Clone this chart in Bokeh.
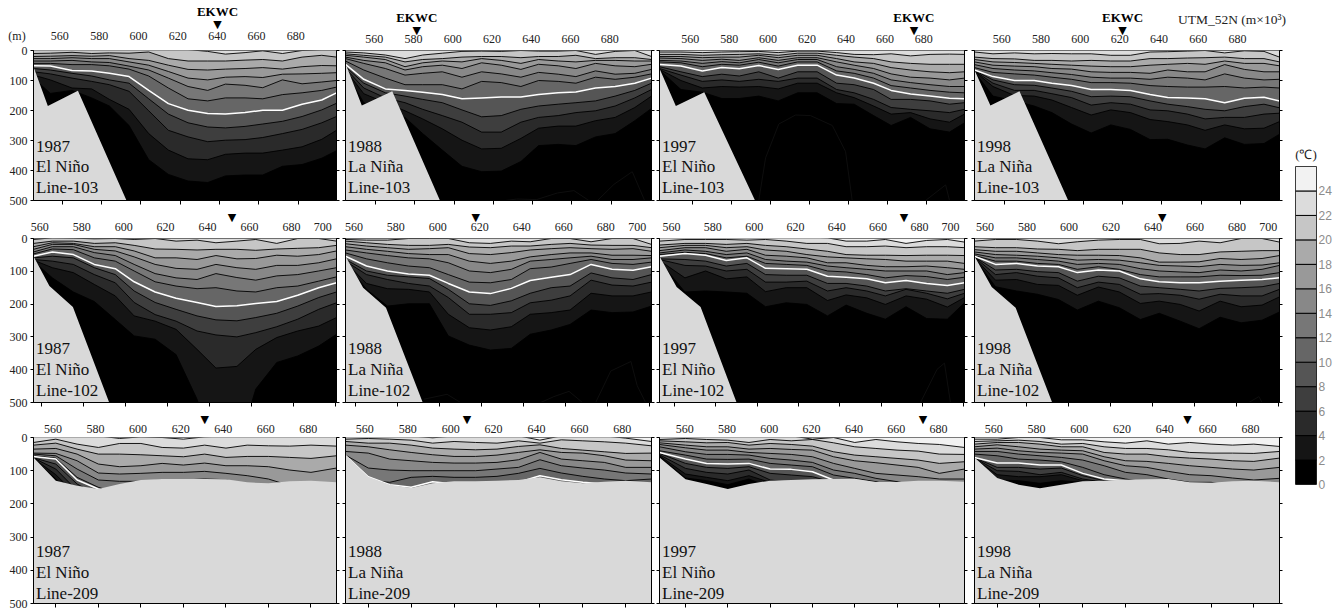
from bokeh.plotting import figure
from bokeh.layouts import row, column
from bokeh.models import Range1d, LinearAxis, FixedTicker, Label
from bokeh.embed import file_html
from bokeh.resources import INLINE

# ---------- stations (UTM km) ----------
ST1 = [545,554,565,575,584,594,604,614,624,634,643,653,662,672,682,692,700]
ST2 = [555.5,565,575,585,595,604,614,624,634,643,653,662,672,682,692,700.5]
ST3 = [549.5,560,570,580,590,600,610,620,630,640,650,660,670,680,691.5]

# ---------- isotherm depths (m), warmest first, 2 C apart ----------
TOP_87_103 = 22
ISO_87_103 = [
 [-3,-3,-3,-3,-3,-3,-3,-3,-3,3,12,7,1,10,0,-2,-2],
 [10,9,6,10,8,9,5,27,35,35,35,32,30,35,22,16,22],
 [20,19,17,19,17,27,33,49,63,65,62,60,57,62,54,50,51],
 [27,27,24,27,27,38,49,70,92,98,89,87,90,79,78,76,74],
 [35,35,33,38,40,52,65,92,120,133,112,116,124,98,111,105,100],
 [43,43,47,47,51,62,85,125,161,168,158,158,161,147,141,133,122],
 [51,52,67,68,76,87,133,177,199,210,212,207,199,199,179,165,141],
 [60,65,76,85,98,109,161,212,241,255,258,253,245,236,220,198,176],
 [71,78,92,103,114,136,201,266,288,304,299,297,290,277,263,241,220],
 [82,98,125,128,163,196,277,332,361,364,346,342,342,332,321,296,266],
 [92,143,133,158,185,250,364,413,435,440,418,415,415,386,380,359,334],
]
TOP_88_103 = 22
ISO_88_103 = [
 [5,8,15,27,15,9,3,2,3,0,2,2,0,13,3,0,20],
 [11,16,22,38,30,27,22,20,20,24,20,20,16,27,24,24,30],
 [16,22,30,54,41,35,38,27,33,43,30,35,38,33,33,35,35],
 [22,33,41,65,54,49,60,41,49,63,46,51,60,43,51,54,46],
 [27,43,60,82,76,71,89,71,78,89,73,79,87,68,79,76,63],
 [35,65,92,114,114,114,128,103,107,120,100,103,109,89,96,89,78],
 [46,96,128,133,139,147,161,158,155,155,147,141,138,125,120,109,92],
 [54,109,141,152,163,174,198,221,217,196,185,179,174,168,152,133,109],
 [60,125,158,174,196,217,239,272,272,239,223,217,207,201,185,158,130],
 [65,144,174,201,228,261,299,328,326,293,259,252,252,234,223,190,152],
 [71,174,207,223,277,332,386,404,402,370,317,313,317,288,277,234,193],
]
TOP_97_103 = 22
ISO_97_103 = [
 [5,5,7,5,4,3,7,2,2,7,13,14,11,18,13,12,13],
 [13,13,16,14,13,11,16,9,9,16,22,27,38,43,46,46,46],
 [20,20,24,22,22,16,24,16,16,27,38,43,57,65,71,74,71],
 [25,27,33,29,33,24,33,24,24,38,49,60,78,89,92,98,92],
 [33,35,43,37,41,30,41,30,30,54,63,76,98,107,114,120,120],
 [38,41,54,46,49,39,52,38,38,68,76,92,117,125,133,139,141],
 [47,52,68,57,61,50,63,49,49,82,92,109,133,145,152,159,161],
 [54,71,87,79,85,71,92,71,71,109,114,130,163,163,168,179,174],
 [60,82,103,98,103,96,103,92,92,130,141,163,190,196,201,207,196],
 [63,100,125,120,122,120,128,109,109,141,157,185,212,207,228,239,212],
 [65,130,139,160,160,152,168,141,141,177,179,217,250,223,261,272,241],
]
TOP_98_103 = 22
ISO_98_103 = [
 [5,11,8,11,10,11,11,16,16,5,4,2,0,8,1,3,22],
 [22,27,28,33,33,35,33,35,35,27,27,25,24,22,27,27,38],
 [30,38,40,43,46,49,52,54,54,49,46,43,46,35,43,43,51],
 [38,49,52,54,60,62,71,73,73,76,65,71,71,47,63,71,71],
 [47,60,65,68,74,80,89,92,92,96,89,92,98,78,92,98,96],
 [57,73,78,82,89,96,107,107,109,117,120,122,122,120,125,122,125],
 [65,87,100,100,109,117,130,130,133,147,157,158,161,174,159,156,168],
 [67,98,114,116,125,136,154,152,154,168,179,187,196,201,187,179,191],
 [68,109,133,133,144,157,182,174,179,198,201,212,228,223,223,212,209],
 [69,120,150,152,165,190,215,198,207,230,237,248,266,248,261,259,237],
 [71,152,168,185,207,245,275,248,263,297,296,315,328,291,313,310,279],
]
TOP_87_102 = 22
ISO_87_102 = [
 [3,-2,-1,1,0,3,0,8,5,13,8,3,15,0,0,8],
 [15,8,8,15,13,21,32,33,35,33,33,36,32,30,28,21],
 [25,13,15,25,25,38,59,59,64,52,62,61,51,54,49,38],
 [33,18,18,33,38,56,79,91,94,79,89,94,82,82,74,62],
 [41,25,25,43,52,79,107,120,125,107,119,127,114,110,99,89],
 [47,32,34,59,69,99,132,145,153,150,160,163,150,145,130,117],
 [54,41,49,79,92,132,163,182,195,207,205,198,192,173,150,135],
 [59,54,59,89,110,160,195,216,236,248,251,241,228,206,180,163],
 [64,69,79,110,135,195,232,252,282,294,300,287,269,246,216,196],
 [66,89,104,140,175,236,252,277,338,395,390,338,302,282,267,241],
 [69,120,163,192,247,297,307,354,490,650,650,459,378,358,328,292],
]
TOP_88_102 = 22
ISO_88_102 = [
 [3,5,5,0,0,0,13,15,8,10,0,0,10,0,0,18],
 [8,13,18,21,21,18,26,28,23,23,18,15,20,21,21,28],
 [16,23,28,33,31,28,46,49,43,35,31,28,31,33,31,39],
 [25,33,39,46,49,49,69,76,69,56,49,44,44,51,51,52],
 [35,44,52,59,62,74,99,104,94,69,64,59,54,64,64,59],
 [44,62,74,84,89,110,133,135,125,92,87,76,64,76,79,72],
 [54,84,99,108,112,137,163,168,152,128,118,110,79,94,97,86],
 [64,99,112,117,122,155,199,204,190,167,150,145,105,120,125,110],
 [69,110,125,137,145,180,231,231,226,196,188,175,127,142,145,133],
 [72,137,153,155,163,231,272,279,269,231,226,218,167,175,175,163],
 [74,155,206,199,199,297,325,340,335,292,279,262,218,226,224,206],
]
TOP_97_102 = 24
ISO_97_102 = [
 [-5,-5,-5,-5,-5,-5,-5,-5,-2,8,8,3,15,6,3,11],
 [8,3,3,3,5,3,8,15,15,25,25,23,28,25,25,28],
 [20,15,15,18,15,21,25,32,39,49,51,51,52,51,51,52],
 [28,21,21,28,25,35,39,49,56,59,62,64,69,69,69,76],
 [37,28,28,39,33,51,54,59,74,74,82,86,86,84,89,94],
 [44,35,39,49,44,64,69,72,84,89,94,99,99,99,110,104],
 [49,42,46,59,54,76,79,82,99,102,110,120,113,116,125,118],
 [54,46,51,67,59,91,92,94,115,118,123,135,128,137,143,135],
 [62,64,69,84,76,110,112,112,137,137,145,160,153,160,167,155],
 [64,82,84,99,94,133,133,130,160,150,160,175,155,167,184,167],
 [67,120,99,123,117,162,150,150,189,172,181,201,175,185,209,180],
 [69,163,160,163,167,208,196,201,236,203,228,246,208,244,246,196],
]
TOP_98_102 = 22
ISO_98_102 = [
 [8,3,3,8,16,10,5,3,3,16,15,8,13,0,0,11],
 [25,28,28,32,33,37,33,33,33,44,49,49,41,39,37,37],
 [34,39,39,44,49,51,51,52,59,72,72,71,61,64,61,52],
 [41,49,51,54,59,66,64,66,74,82,84,86,79,82,81,74],
 [47,59,59,64,69,79,76,79,92,99,102,104,96,99,94,82],
 [52,69,69,76,79,94,86,94,110,117,117,117,112,113,112,104],
 [54,79,76,84,86,104,96,99,123,132,135,135,130,127,125,120],
 [56,96,94,101,104,130,115,120,145,150,155,160,152,150,147,137],
 [57,110,104,115,120,150,133,140,170,168,173,185,170,175,175,155],
 [59,127,125,140,143,173,148,163,198,191,201,221,191,208,203,178],
 [60,147,160,170,186,218,191,211,247,228,252,275,240,257,249,224],
]
TOP_87_209 = 24
ISO_87_209 = [
 [-5,-5,-5,-5,3,-2,0,5,-2,-5,-5,-5,-5,-5,-5],
 [15,5,20,30,18,18,30,32,23,32,23,25,26,23,26],
 [23,17,35,50,50,52,55,58,50,60,57,57,60,63,55],
 [35,33,50,80,88,85,78,83,77,85,85,88,98,105,92],
 [47,48,70,107,110,108,105,105,102,108,115,125,145,160,160],
 [50,55,95,128,132,132,128,128,125,127,145,160,170,170,170],
 [55,62,120,150,170,170,170,170,170,170,170,170,170,170,170],
 [57,65,128,155,175,175,175,175,175,175,175,175,175,175,175],
 [61,80,140,175,180,180,180,180,180,180,180,180,180,180,180],
 [62,95,160,180,185,185,185,185,185,185,185,185,185,185,185],
 [63,112,175,190,190,190,190,190,190,190,190,190,190,190,190],
 [63,125,190,200,200,200,200,200,200,200,200,200,200,200,200],
]
LAND_87_209 = [60,130,145,155,140,128,125,125,125,126,135,138,132,130,135]
TOP_88_209 = 24
ISO_88_209 = [
 [-5,-5,-5,-5,1,-5,-5,-5,-5,8,-5,-5,-5,2,12],
 [5,3,5,8,17,12,15,17,10,17,7,10,13,17,25],
 [12,17,17,23,32,35,37,35,27,22,33,38,43,48,47],
 [23,28,37,45,52,57,57,53,45,37,45,47,55,68,70],
 [42,47,65,70,75,77,77,75,67,45,65,70,75,90,90],
 [53,92,98,100,100,100,100,95,90,67,85,92,98,107,110],
 [54,130,135,120,117,120,120,117,108,93,107,117,125,130,125],
 [54,118,142,150,133,140,140,140,135,115,127,135,140,140,140],
]
LAND_88_209 = [53,118,142,152,138,132,132,130,128,120,132,138,133,130,135]
TOP_97_209 = 24
ISO_97_209 = [
 [-5,-5,-5,-5,-5,-5,-5,5,0,15,6,13,18,21,30],
 [6,3,6,8,15,6,10,6,16,28,33,38,41,50,51],
 [10,13,16,15,23,18,21,26,43,53,58,63,68,78,73],
 [16,23,28,28,35,33,36,38,58,70,76,83,90,108,95],
 [21,31,38,38,45,48,51,58,78,93,108,113,118,125,125],
 [28,43,51,51,53,63,68,75,98,108,123,133,145,150,150],
 [40,53,65,66,65,78,83,88,113,123,133,150,160,170,170],
 [45,65,78,80,78,95,96,103,128,150,160,170,175,180,180],
 [48,78,90,93,88,108,113,118,135,155,165,175,180,185,185],
 [52,93,105,110,98,128,135,135,140,160,170,180,185,190,190],
 [55,110,120,130,115,135,140,140,145,165,175,185,190,195,195],
 [57,122,130,142,125,150,150,150,150,170,180,190,195,200,200],
]
LAND_97_209 = [60,126,140,155,140,130,128,126,125,124,134,134,130,130,133]
TOP_98_209 = 24
ISO_98_209 = [
 [5,5,0,0,7,7,13,17,10,20,15,20,23,20,27],
 [12,10,8,12,20,18,28,33,33,37,45,47,47,48,42],
 [20,15,15,20,28,28,45,50,50,58,62,65,70,72,62],
 [28,22,28,35,38,40,58,70,72,78,85,90,95,98,90],
 [35,32,40,45,47,50,70,85,90,102,112,115,122,128,123],
 [42,42,50,55,60,68,85,105,112,125,135,135,145,150,150],
 [50,55,65,68,73,90,112,125,135,135,150,150,160,160,160],
 [60,77,77,83,83,108,125,130,150,160,170,170,170,170,170],
 [61,90,90,95,92,115,130,140,160,170,175,175,175,175,175],
 [62,100,102,112,105,125,135,145,165,175,180,180,180,180,180],
 [63,112,118,118,112,130,140,150,170,180,185,185,185,185,185],
 [64,128,130,138,130,135,145,155,175,185,190,190,190,190,190],
]
LAND_98_209 = [60,122,142,153,142,132,130,127,126,125,135,136,132,130,135]

# ---------- coast outlines for Lines 103 and 102 ----------
LX_87_103 = [545.4,552.7,568,592.7]; LY_87_103 = [54,185,134,500]
LX_88_103 = [544.7,553,568.5,592.8]; LY_88_103 = [43,183,136,500]
LX_97_103 = [543,551.4,566,592.1];   LY_97_103 = [60,185,139,500]
LX_98_103 = [544.6,552.7,567.5,592.3]; LY_98_103 = [65,183,136,500]
LX_87_102 = [556,563.6,574.8,592.1]; LY_87_102 = [54,145,209,500]
LX_88_102 = [555,563.4,574.3,591.8]; LY_88_102 = [54,150,211,500]
LX_97_102 = [552.7,561,572.6,590];   LY_97_102 = [54,148,209,500]
LX_98_102 = [555,563.2,574.6,592];   LY_98_102 = [54,148,211,500]

# ---------- faint isotherm traces in the coldest water ----------
FAINT_88_103 = [([626,632,642,652.5,661,668.6],[500,495,497,475,467,500]),
                ([673,681.4,690.7,697],[500,446,404,500])]
FAINT_97_103 = [([594,597.5,604.3,612.9,620.6,631.8,638.6,642],[500,358,245,215,217,250,337,500]),
                ([679.7,690,692],[500,448,500])]
FAINT_88_102 = [([592.3,603.4,609.8],[490,475,500]),
                ([648,654.3,661.5,667.9],[500,482,466,500]),
                ([674.2,681.4,691,694,698],[500,404,375,449,500])]
FAINT_97_102 = [([679,687,690.6,693.5],[500,399,380,500])]
FAINT_98_102 = [([685.7,690.5,692],[500,482,500])]

# ---------- labels ----------
YEARS = ["1987", "1988", "1997", "1998"]
PHASES = ["El Niño", "La Niña", "El Niño", "La Niña"]
LINES = ["Line-103", "Line-102", "Line-209"]
DEPTH_TICKS = [0, 100, 200, 300, 400, 500]
X_TICKS_A = [560, 580, 600, 620, 640, 660, 680]
X_TICKS_B = [560, 580, 600, 620, 640, 660, 680, 700]
CBAR_TEMPS = [0, 2, 4, 6, 8, 10, 12, 14, 16, 18, 20, 22, 24]
CBAR_GRAYS = ["#000000","#151515","#2a2a2a","#3e3e3e","#555555","#666666","#777777",
              "#888888","#999999","#aaaaaa","#c6c6c6","#dcdcdc","#f2f2f2"]
EKWC_X = [[639, 581, 673.7, 620], [650.7, 617, 671, 644.4], [630, 606, 672.3, 649]]

SERIF = "Liberation Serif"
LAND = "#d9d9d9"

# layout (px)
COLS = [(33, 303, 5), (4, 306, 4), (4, 305, 5), (5, 305, 11)]
ROWS = [(47, 153, 7), (31, 164, 7), (28, 166, 6)]
RANGES = [
 [(545.4,699.5),(544.7,700.5),(543,699.7),(544.6,699.9)],
 [(556,700.5),(555,700.8),(552.7,700.3),(555,700.3)],
 [(549.5,692),(549.4,692),(547.7,691.9),(549.4,692)],
]
LABEL_SHIFT = [[-1.2,-0.7,-1.2,-1.5],[-1,-1,-1.5,0],[-1.3,-1.6,-0.4,-1.6]]
TEXT_UP_PX = [(54,34,13),(54,33,12),(52,31,10)]
TICK_STANDOFF = [8, 8, 5]
MARK_STANDOFF = [-5, -4, -4]

ISOS = [
 [(TOP_87_103,ISO_87_103),(TOP_88_103,ISO_88_103),(TOP_97_103,ISO_97_103),(TOP_98_103,ISO_98_103)],
 [(TOP_87_102,ISO_87_102),(TOP_88_102,ISO_88_102),(TOP_97_102,ISO_97_102),(TOP_98_102,ISO_98_102)],
 [(TOP_87_209,ISO_87_209),(TOP_88_209,ISO_88_209),(TOP_97_209,ISO_97_209),(TOP_98_209,ISO_98_209)],
]
COASTS = [
 [(LX_87_103,LY_87_103),(LX_88_103,LY_88_103),(LX_97_103,LY_97_103),(LX_98_103,LY_98_103)],
 [(LX_87_102,LY_87_102),(LX_88_102,LY_88_102),(LX_97_102,LY_97_102),(LX_98_102,LY_98_102)],
 [LAND_87_209,LAND_88_209,LAND_97_209,LAND_98_209],
]
FAINTS = [[[], FAINT_88_103, FAINT_97_103, []],
          [[], FAINT_88_102, FAINT_97_102, FAINT_98_102],
          [[], [], [], []]]
STATIONS = [ST1, ST2, ST3]


def gray(t):
    return CBAR_GRAYS[t // 2]


def text_axis(locs, texts, font=SERIF, size="12px", color="#222222", style="normal", standoff=0):
    return LinearAxis(ticker=FixedTicker(ticks=locs), major_label_overrides=texts,
                      major_label_text_font=font, major_label_text_font_size=size,
                      major_label_text_color=color, major_label_text_font_style=style,
                      major_label_standoff=standoff,
                      major_tick_in=0, major_tick_out=0, minor_tick_out=0, minor_tick_in=0,
                      major_tick_line_color=None, axis_line_color=None)


def panel(r, c):
    lb, fw, rb = COLS[c]
    tb, fh, bb = ROWS[r]
    x0, x1 = RANGES[r][c]
    p = figure(width=lb + fw + rb, height=tb + fh + bb,
               x_range=Range1d(x0, x1), y_range=Range1d(500, 0),
               x_axis_location=None, y_axis_location=None,
               toolbar_location=None, output_backend="svg",
               min_border_left=lb, min_border_right=rb, min_border_top=tb, min_border_bottom=bb,
               background_fill_color=LAND, border_fill_color="white")
    p.grid.visible = False
    p.outline_line_color = "black"
    p.outline_line_width = 1

    st = list(STATIONS[r])
    st[0] = x0
    st[-1] = x1
    top, iso = ISOS[r][c]
    n = len(st)
    for d in iso:
        assert len(d) == n
    p.varea(st, y1=[-10] * n, y2=[600] * n, fill_color=gray(top))
    t = top
    for d in iso:
        p.varea(st, y1=d, y2=[600] * n, fill_color=gray(t - 2))
        t -= 2
    t = top
    white = None
    for d in iso:
        if t == 10:
            white = d
        else:
            p.line(st, d, line_color="black", line_width=0.9)
        t -= 2
    if white is not None:
        p.line(st, white, line_color="white", line_width=1.5)
    for fx, fy in FAINTS[r][c]:
        p.line(fx, fy, line_color="#121212", line_width=0.8)

    coast = COASTS[r][c]
    if r < 2:
        lx = coast[0] + [x0]
        ly = coast[1] + [500]
        p.patch(lx, ly, fill_color=LAND, line_color=None)
    else:
        lx = st + [x1, x0]
        ly = list(coast) + [510, 510]
        p.patch(lx, ly, fill_color=LAND, line_color=None)

    xticks = X_TICKS_A if r != 1 else X_TICKS_B
    below = LinearAxis(ticker=FixedTicker(ticks=xticks),
                       major_label_overrides={v: "" for v in xticks},
                       major_label_text_font_size="0px", major_label_standoff=0,
                       major_tick_in=0, major_tick_out=4, minor_tick_out=0, minor_tick_in=0,
                       major_tick_line_color="black", axis_line_color="black")
    p.add_layout(below, "below")

    shift = LABEL_SHIFT[r][c]
    locs, texts = [], {}
    for v in xticks:
        loc = v + shift if v != 700 else 695 + shift
        locs.append(loc)
        texts[loc] = str(v)
    if r == 0 and c == 0:
        locs.append(x0)
        texts[x0] = "(m)" + "\u00a0" * 11
    p.add_layout(text_axis(locs, texts, standoff=TICK_STANDOFF[r]), "above")

    mk = EKWC_X[r][c]
    p.add_layout(text_axis([mk], {mk: "▼"}, font="DejaVu Sans", size="11px", color="black",
                           standoff=MARK_STANDOFF[r]), "above")
    if r == 0:
        p.add_layout(text_axis([mk], {mk: "EKWC"}, size="13px", style="bold", color="black",
                               standoff=-4), "above")
    if r == 0 and c == 3:
        ux = round(x1 - 47.5 * (x1 - x0) / fw, 2)
        p.add_layout(text_axis([ux], {ux: "UTM_52N (m×10³)"}, size="13.5px", standoff=-20), "above")

    left = LinearAxis(ticker=FixedTicker(ticks=DEPTH_TICKS),
                      major_tick_in=0, major_tick_out=3, minor_tick_out=0, minor_tick_in=0,
                      major_tick_line_color="black", axis_line_color="black",
                      major_label_text_font=SERIF, major_label_text_font_size="12px",
                      major_label_text_color="#222222", major_label_standoff=3)
    if c > 0:
        left.major_label_overrides = {v: "" for v in DEPTH_TICKS}
        left.major_label_text_font_size = "0px"
        left.major_label_standoff = 0
    p.add_layout(left, "left")
    right = LinearAxis(ticker=FixedTicker(ticks=DEPTH_TICKS),
                       major_tick_in=0, major_tick_out=3, minor_tick_out=0, minor_tick_in=0,
                       major_tick_line_color="black", axis_line_color="black",
                       major_label_overrides={v: "" for v in DEPTH_TICKS},
                       major_label_text_font_size="0px", major_label_standoff=0)
    p.add_layout(right, "right")

    # panel captions
    ups = TEXT_UP_PX[r]
    for txt, up in zip((YEARS[c], PHASES[c], LINES[r]), ups):
        p.add_layout(Label(x=2.5, y=up, x_units="screen", y_units="screen", text=txt,
                           text_font=SERIF, text_font_size="17px", text_color="#111111",
                           text_align="left", text_baseline="alphabetic"))
    return p


rows = [row(*[panel(r, c) for c in range(4)]) for r in range(3)]

# ---------- colour bar ----------
cb = figure(width=45, height=609, x_range=Range1d(0, 1), y_range=Range1d(0, 26),
            x_axis_location=None, y_axis_location=None,
            toolbar_location=None, output_backend="svg",
            min_border_left=5, min_border_right=19, min_border_top=166, min_border_bottom=125)
cb.grid.visible = False
cb.outline_line_color = "#555555"
cb.quad(left=[0] * 13, right=[1] * 13, bottom=CBAR_TEMPS, top=[t + 2 for t in CBAR_TEMPS],
        fill_color=CBAR_GRAYS, line_color="black", line_width=1)
cax = LinearAxis(ticker=FixedTicker(ticks=CBAR_TEMPS), major_tick_in=0, major_tick_out=0,
                 minor_tick_in=0, minor_tick_out=0, major_tick_line_color=None,
                 axis_line_color=None, major_label_text_font="Liberation Sans",
                 major_label_text_font_size="12px", major_label_text_color="#8c8c8c",
                 major_label_standoff=2)
cb.add_layout(cax, "right")
cb.add_layout(text_axis([0.5], {0.5: "(℃)"}, size="13px", standoff=5), "above")

layout = row(column(*rows), cb)
open("out.html", "w").write(file_html(layout, INLINE))
